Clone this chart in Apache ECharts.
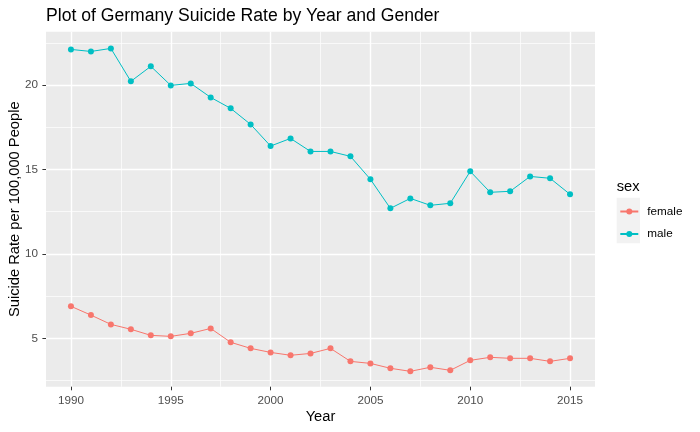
<!DOCTYPE html>
<html>
<head>
<meta charset="utf-8">
<script src="https://cdn.jsdelivr.net/npm/echarts@6/dist/echarts.min.js"></script>
<style>html,body{margin:0;padding:0;background:#fff}#c{width:700px;height:432px}</style>
</head>
<body>
<div id="c"></div>
<script>
var years = [1990,1991,1992,1993,1994,1995,1996,1997,1998,1999,2000,2001,2002,2003,2004,2005,2006,2007,2008,2009,2010,2011,2012,2013,2014,2015];
var male = [22.11,21.99,22.17,20.22,21.11,19.98,20.10,19.27,18.62,17.67,16.39,16.84,16.07,16.07,15.78,14.42,12.70,13.29,12.88,13.00,14.89,13.65,13.71,14.59,14.48,13.53];
var female = [6.90,6.38,5.83,5.54,5.18,5.12,5.30,5.59,4.77,4.41,4.17,4.00,4.11,4.41,3.64,3.52,3.23,3.05,3.29,3.11,3.70,3.88,3.82,3.82,3.64,3.82];
var xMajor = [1990,1995,2000,2005,2010,2015];
var xMinor = [1992.5,1997.5,2002.5,2007.5,2012.5];
var yMajor = [5,10,15,20];
var yMinor = [2.5,7.5,12.5,17.5,22.5];
var seriesNames = ['female','male'];
var colors = ['#F8766D','#00BFC4'];

var FONT = 'Liberation Sans, Arial, sans-serif';
function pairs(vals){ return years.map(function(y,i){ return [y, vals[i]]; }); }

var chart = echarts.init(document.getElementById('c'), null, {renderer:'canvas'});
var xMin = 1988.75, xMax = 2016.25, yMin = 2.14, yMax = 23.16;
var option = {
  animation: false,
  title: {
    text: 'Plot of Germany Suicide Rate by Year and Gender',
    left: 46, top: 7.5, padding: 0,
    textStyle: {fontFamily: FONT, fontSize: 17.6, fontWeight: 'normal', color: '#000'}
  },
  grid: {left: 46, right: 105, top: 31.7, bottom: 45.3, show: true, backgroundColor: '#EBEBEB', borderWidth: 0, containLabel: false, outerBoundsMode: 'none'},
  legend: {
    orient: 'vertical', left: 619.3, top: 205.5, padding: 0, itemWidth: 18, itemHeight: 7.5, itemGap: 10.5,
    data: seriesNames,
    textStyle: {fontFamily: FONT, fontSize: 11.7, color: '#000', padding: [0,0,0,4]}
  },
  graphic: [
    {type: 'rect', left: 616.7, top: 197.7, shape: {width: 23.3, height: 45.6}, style: {fill: '#F2F2F2'}, z: 0},
    {type: 'text', left: 616.7, top: 179, style: {text: 'sex', fontFamily: FONT, fontSize: 14.7, fill: '#000'}}
  ],
  xAxis: [{
    type: 'value', min: xMin, max: xMax,
    name: 'Year', nameLocation: 'middle', nameGap: 23, nameMoveOverlap: false,
    nameTextStyle: {fontFamily: FONT, fontSize: 14.7, color: '#000', verticalAlign: 'top'},
    axisLine: {show: false},
    axisTick: {show: true, length: 3.6, customValues: xMajor, lineStyle: {color: '#333333', width: 1}},
    axisLabel: {customValues: xMajor, margin: 8, fontFamily: FONT, fontSize: 11.7, color: '#4D4D4D', formatter: function(v){return String(v);}},
    splitLine: {show: true, lineStyle: {color: '#FFFFFF', width: 1.4}}
  }, {
    type: 'value', min: xMin, max: xMax, position: 'bottom',
    axisLine: {show: false},
    axisTick: {show: false, customValues: xMinor},
    axisLabel: {show: false, customValues: xMinor},
    splitLine: {show: true, lineStyle: {color: '#FFFFFF', width: 0.7}}
  }],
  yAxis: [{
    type: 'value', min: yMin, max: yMax,
    name: 'Suicide Rate per 100,000 People', nameLocation: 'middle', nameGap: 24, nameMoveOverlap: false,
    nameTextStyle: {fontFamily: FONT, fontSize: 14.7, color: '#000'},
    axisLine: {show: false},
    axisTick: {show: true, length: 3.6, customValues: yMajor, lineStyle: {color: '#333333', width: 1}},
    axisLabel: {customValues: yMajor, margin: 8, fontFamily: FONT, fontSize: 11.7, color: '#4D4D4D'},
    splitLine: {show: true, lineStyle: {color: '#FFFFFF', width: 1.4}}
  }, {
    type: 'value', min: yMin, max: yMax, position: 'left',
    axisLine: {show: false},
    axisTick: {show: false, customValues: yMinor},
    axisLabel: {show: false, customValues: yMinor},
    splitLine: {show: true, lineStyle: {color: '#FFFFFF', width: 0.7}}
  }],
  series: [
    {name: seriesNames[0], type: 'line', data: pairs(female), xAxisIndex: 0, yAxisIndex: 0, symbol: 'circle', symbolSize: 6, showSymbol: true,
     lineStyle: {color: colors[0], width: 1}, itemStyle: {color: colors[0]}, z: 5},
    {name: seriesNames[1], type: 'line', data: pairs(male), xAxisIndex: 0, yAxisIndex: 0, symbol: 'circle', symbolSize: 6, showSymbol: true,
     lineStyle: {color: colors[1], width: 1}, itemStyle: {color: colors[1]}, z: 5}
  ]
};
chart.setOption(option);
</script>
</body>
</html>
